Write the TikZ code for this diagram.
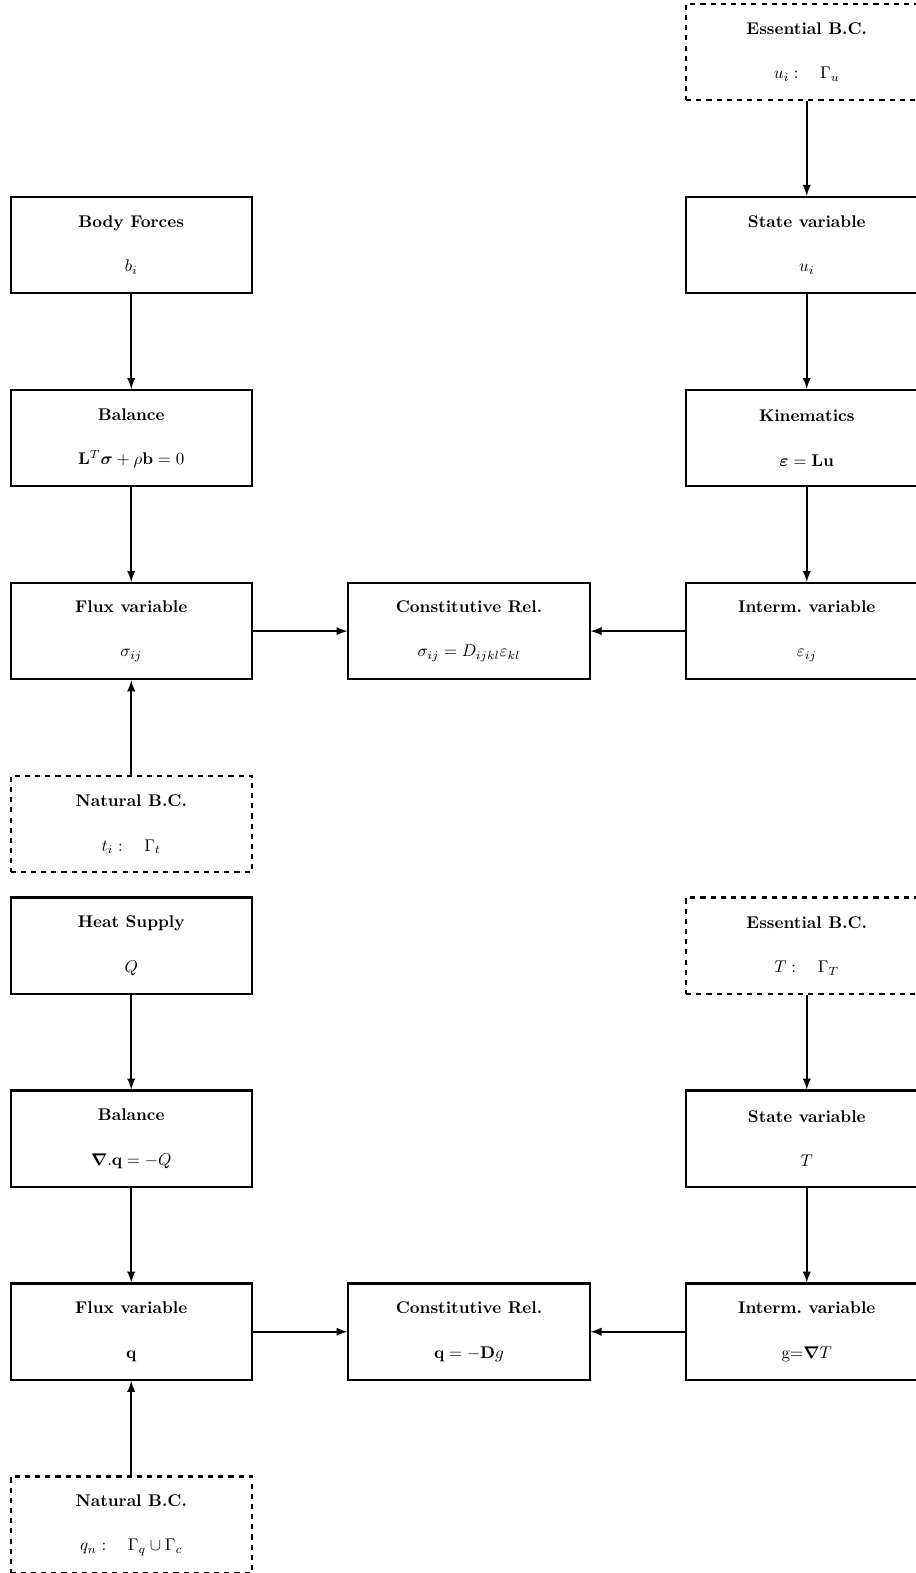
\documentclass[tikz,border=0pt]{standalone}
\usepackage{amsmath}
\usepackage{amssymb}
\usepackage{tikz}

\begin{document}
\begin{tikzpicture}
  [very thick,>=latex,
   every node/.style={draw,minimum width=5cm,minimum height=2cm,
     align=center,inner sep=0pt},
   bc/.style={dashed}]
  \useasboundingbox (0,0) rectangle (18.98,-32.6);

  % mechanics
  \node[bc] (ebcu) at (16.72,-1.08) {\textbf{Essential B.C.}\\[0.5cm] $u_i:\quad\Gamma_u$};
  \node (body) at (2.72,-5.08) {\textbf{Body Forces}\\[0.5cm] $b_i$};
  \node (stu) at (16.72,-5.08) {\textbf{State variable}\\[0.5cm] $u_i$};
  \node (balu) at (2.72,-9.08) {\textbf{Balance}\\[0.5cm] $\mathbf{L}^T\boldsymbol{\sigma}+\rho\mathbf{b}=0$};
  \node (kin) at (16.72,-9.08) {\textbf{Kinematics}\\[0.5cm] $\boldsymbol{\varepsilon}=\mathbf{Lu}$};
  \node (fluxu) at (2.72,-13.08) {\textbf{Flux variable}\\[0.5cm] $\sigma_{ij}$};
  \node (cru) at (9.72,-13.08) {\textbf{Constitutive Rel.}\\[0.5cm] $\sigma_{ij}=D_{ijkl}\varepsilon_{kl}$};
  \node (intu) at (16.72,-13.08) {\textbf{Interm.\ variable}\\[0.5cm] $\varepsilon_{ij}$};
  \node[bc] (nbcu) at (2.72,-17.08) {\textbf{Natural B.C.}\\[0.5cm] $t_i:\quad\Gamma_t$};

  \foreach \from/\to in {ebcu/stu,stu/kin,kin/intu,body/balu,balu/fluxu,nbcu/fluxu,fluxu/cru,intu/cru}
    \draw[->] (\from) -- (\to);

  % heat
  \node (heat) at (2.72,-19.6) {\textbf{Heat Supply}\\[0.5cm] $Q$};
  \node[bc] (ebct) at (16.72,-19.6) {\textbf{Essential B.C.}\\[0.5cm] $T:\quad\Gamma_T$};
  \node (balt) at (2.72,-23.6) {\textbf{Balance}\\[0.5cm] $\boldsymbol{\nabla}.\mathbf{q}=-Q$};
  \node (stt) at (16.72,-23.6) {\textbf{State variable}\\[0.5cm] $T$};
  \node (fluxt) at (2.72,-27.6) {\textbf{Flux variable}\\[0.5cm] $\mathbf{q}$};
  \node (crt) at (9.72,-27.6) {\textbf{Constitutive Rel.}\\[0.5cm] $\mathbf{q}=-\mathbf{D}g$};
  \node (intt) at (16.72,-27.6) {\textbf{Interm.\ variable}\\[0.5cm] g=$\boldsymbol{\nabla}T$};
  \node[bc] (nbct) at (2.72,-31.6) {\textbf{Natural B.C.}\\[0.5cm] $q_n:\quad\Gamma_q\cup\Gamma_c$};

  \foreach \from/\to in {ebct/stt,stt/intt,heat/balt,balt/fluxt,nbct/fluxt,fluxt/crt,intt/crt}
    \draw[->] (\from) -- (\to);

\end{tikzpicture}
\end{document}
